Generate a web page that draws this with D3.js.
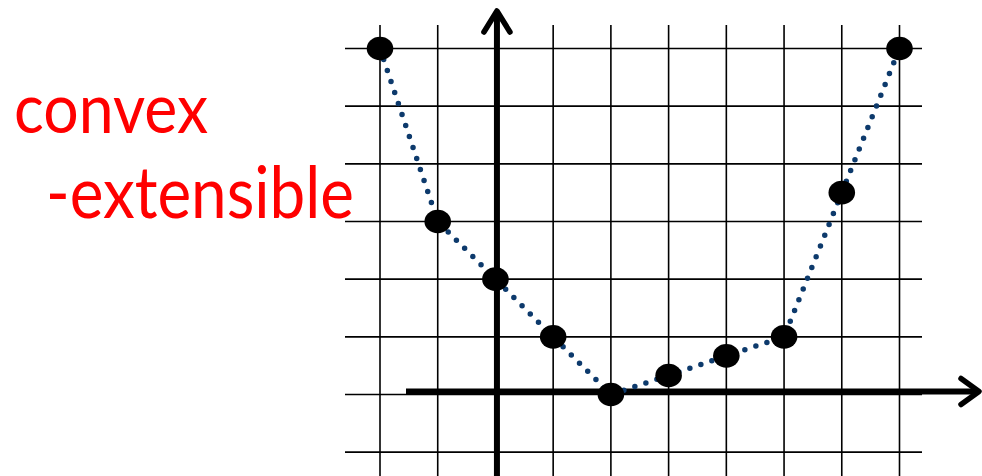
<!DOCTYPE html>
<html>
<head>
<meta charset="utf-8">
<script src="https://cdn.jsdelivr.net/npm/d3@7"></script>
<style>
  html, body { margin: 0; padding: 0; background: #fff; }
  svg { display: block; }
</style>
</head>
<body>
<svg id="chart" width="982" height="476"></svg>
<script>
// Sample points of the function, in grid units
const xValues = [-2, -1, 0, 1, 2, 3, 4, 5, 6, 7];
const yValues = [6, 3, 2, 1, 0, 0.33, 0.67, 1, 3.5, 6];

// Grid lines, in grid units
const gridX = [-2, -1, 0, 1, 2, 3, 4, 5, 6, 7];
const gridY = [6, 5, 4, 3, 2, 1, 0, -1];

// Caption lines
const captionLines = ["convex", "-extensible"];

const svg = d3.select("#chart");
const W = 982, H = 476;

const x = d3.scaleLinear().domain([-2, 7]).range([380, 899.5]);
const y = d3.scaleLinear().domain([0, 6]).range([394.5, 48.5]);

// Grid
const grid = svg.append("g").attr("stroke", "#000").attr("stroke-width", 1.6);
grid.selectAll("line.v").data(gridX).join("line")
  .attr("class", "v")
  .attr("x1", d => x(d)).attr("x2", d => x(d))
  .attr("y1", 25).attr("y2", H);
grid.selectAll("line.h").data(gridY).join("line")
  .attr("class", "h")
  .attr("x1", 345).attr("x2", 922)
  .attr("y1", d => y(d)).attr("y2", d => y(d));

// Axes with open arrowheads
const axes = svg.append("g")
  .attr("stroke", "#000").attr("fill", "none")
  .attr("stroke-linecap", "round").attr("stroke-linejoin", "round");
const x0 = x(0) + 1.5;
const yAxisY = y(0) - 3;
axes.append("line")
  .attr("x1", 406).attr("x2", 978).attr("y1", yAxisY).attr("y2", yAxisY)
  .attr("stroke-width", 6).attr("stroke-linecap", "butt");
axes.append("path")
  .attr("d", `M${961},${yAxisY - 13} L${979},${yAxisY} L${961},${yAxisY + 13}`)
  .attr("stroke-width", 5.5);
axes.append("line")
  .attr("x1", x0).attr("x2", x0).attr("y1", 11).attr("y2", H)
  .attr("stroke-width", 6).attr("stroke-linecap", "butt");
axes.append("path")
  .attr("d", `M${x0 - 13},${32} L${x0},${11} L${x0 + 13},${32}`)
  .attr("stroke-width", 5.5);

// Dotted connecting line
const pts = xValues.map((v, i) => [v, yValues[i]]);
const line = d3.line().x(d => x(d[0])).y(d => y(d[1]));
svg.append("path")
  .datum(pts)
  .attr("d", line)
  .attr("fill", "none")
  .attr("stroke", "#0d3a6c")
  .attr("stroke-width", 5.5)
  .attr("stroke-linecap", "round")
  .attr("stroke-dasharray", "0 11.6");

// Sample point markers
svg.append("g").selectAll("ellipse").data(pts).join("ellipse")
  .attr("cx", d => x(d[0])).attr("cy", d => y(d[1]))
  .attr("rx", 13.3).attr("ry", 11.8)
  .attr("fill", "#000");

// Caption: fitted to width, then stretched a little vertically
const caption = svg.append("g")
  .attr("fill", "#ff0000")
  .attr("font-family", "Lato, 'Open Sans', sans-serif")
  .attr("font-size", 64);
const capPos = [[14, 133, 194], [46, 218, 308]];
captionLines.forEach((t, i) => {
  const [cx, cy, cw] = capPos[i];
  const el = caption.append("text")
    .attr("x", 0).attr("y", 0)
    .attr("transform", `translate(${cx},${cy}) scale(1,1.13)`)
    .text(t);
  const w = el.node().getComputedTextLength();
  el.attr("font-size", 64 * cw / w);
});
</script>
</body>
</html>
